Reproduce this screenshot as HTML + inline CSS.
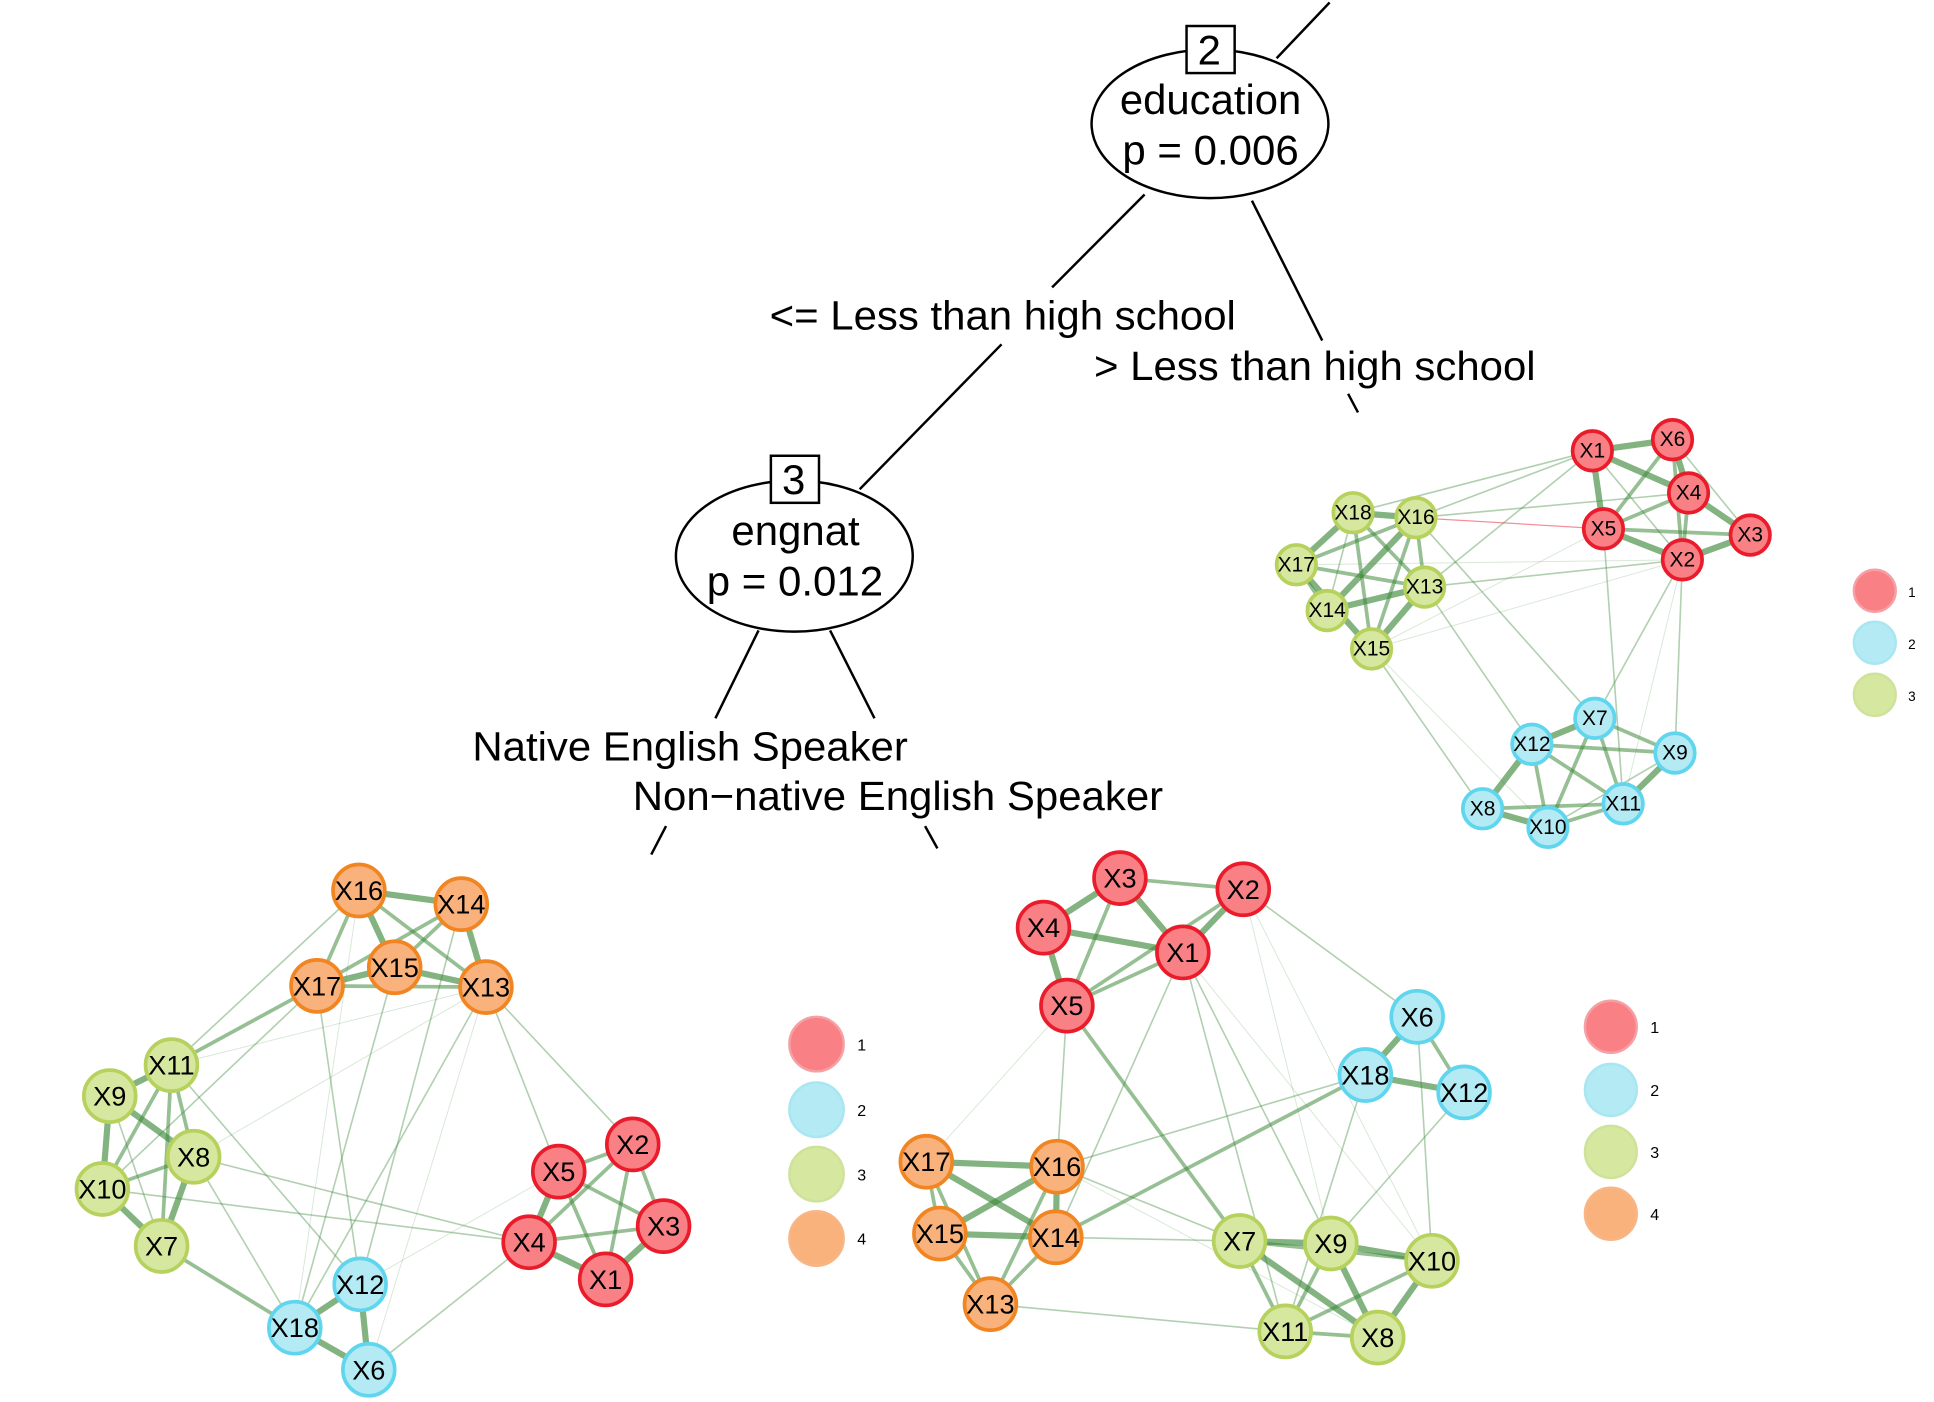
<!DOCTYPE html>
<html><head><meta charset="utf-8"><style>
html,body{margin:0;padding:0;background:#fff;}
svg{display:block}
text{font-family:"Liberation Sans",sans-serif;fill:#000}
.tr line{stroke:#000;stroke-width:2}
.t{stroke:#3f8a3c;stroke-width:5;stroke-opacity:.65}
.m{stroke:#3f8a3c;stroke-width:3;stroke-opacity:.55}
.s{stroke:#3f8a3c;stroke-width:1.3;stroke-opacity:.4}
.f{stroke:#3f8a3c;stroke-width:.8;stroke-opacity:.2}
.R{fill:#f98085;stroke:#ea1c2c;stroke-width:3}
.B{fill:#b3eaf4;stroke:#5fd5ee;stroke-width:3}
.G{fill:#d6e7a0;stroke:#b6d15c;stroke-width:3}
.O{fill:#fab27c;stroke:#f08522;stroke-width:3}
.LR{fill:#f98085;stroke:#f5a0a4;stroke-width:2}
.LB{fill:#b3eaf4;stroke:#a8e6f2;stroke-width:2}
.LG{fill:#d6e7a0;stroke:#cfe29a;stroke-width:2}
.LO{fill:#fab27c;stroke:#f8b585;stroke-width:2}
.n1 text{font-size:17px;text-anchor:middle;dominant-baseline:central}
.n2 text{font-size:22px;text-anchor:middle;dominant-baseline:central}
.lg{font-size:13px}
</style></head><body>
<svg width="1934" height="1402" viewBox="0 0 1568 1132" preserveAspectRatio="none">
<g class="tr" fill="none">
<line x1="1078" y1="2" x2="1035" y2="47"/>
<line x1="928" y1="157" x2="853" y2="232"/>
<line x1="812" y1="278" x2="697" y2="395"/>
<line x1="1015" y1="162" x2="1072" y2="275"/>
<line x1="1093" y1="318" x2="1101" y2="333"/>
<line x1="615" y1="509" x2="580" y2="580"/>
<line x1="673" y1="509" x2="709" y2="580"/>
<line x1="540" y1="667" x2="528" y2="690"/>
<line x1="750" y1="667" x2="760" y2="685"/>
<ellipse cx="981" cy="100" rx="96" ry="60" stroke="#000" stroke-width="2" fill="#fff"/>
<rect x="962" y="21" width="39" height="38" stroke="#000" stroke-width="2" fill="#fff"/>
<ellipse cx="644" cy="449" rx="96" ry="61" stroke="#000" stroke-width="2" fill="#fff"/>
<rect x="625" y="368" width="39" height="38" stroke="#000" stroke-width="2" fill="#fff"/>
</g>
<g style="font-size:34px" lengthAdjust="spacingAndGlyphs">
<text x="971" y="52">2</text>
<text x="908" y="92" textLength="147" lengthAdjust="spacingAndGlyphs">education</text>
<text x="910" y="133" textLength="143" lengthAdjust="spacingAndGlyphs">p = 0.006</text>
<text x="634" y="399">3</text>
<text x="593" y="440" textLength="104" lengthAdjust="spacingAndGlyphs">engnat</text>
<text x="573" y="481" textLength="143" lengthAdjust="spacingAndGlyphs">p = 0.012</text>
</g>
<g style="font-size:33px">
<text x="624" y="266" textLength="378" lengthAdjust="spacingAndGlyphs">&lt;= Less than high school</text>
<text x="887" y="307" textLength="358" lengthAdjust="spacingAndGlyphs">&gt; Less than high school</text>
<text x="383" y="614" textLength="353" lengthAdjust="spacingAndGlyphs">Native English Speaker</text>
<text x="513" y="654" textLength="430" lengthAdjust="spacingAndGlyphs">Non−native English Speaker</text>
</g>

<!-- Network 1 -->
<g>
<line class="t" x1="1291" y1="364" x2="1356" y2="355"/><line class="t" x1="1291" y1="364" x2="1369" y2="398"/>
<line class="t" x1="1291" y1="364" x2="1300" y2="427"/><line class="s" x1="1291" y1="364" x2="1364" y2="452"/>
<line class="t" x1="1356" y1="355" x2="1369" y2="398"/><line class="m" x1="1356" y1="355" x2="1364" y2="452"/>
<line class="s" x1="1356" y1="355" x2="1419" y2="432"/><line class="m" x1="1356" y1="355" x2="1300" y2="427"/>
<line class="t" x1="1369" y1="398" x2="1419" y2="432"/><line class="m" x1="1369" y1="398" x2="1300" y2="427"/>
<line class="t" x1="1364" y1="452" x2="1419" y2="432"/><line class="t" x1="1300" y1="427" x2="1364" y2="452"/>
<line class="m" x1="1300" y1="427" x2="1419" y2="432"/><line class="m" x1="1369" y1="398" x2="1364" y2="452"/>
<line class="t" x1="1097" y1="414" x2="1148" y2="418"/><line class="t" x1="1097" y1="414" x2="1051" y2="456"/>
<line class="m" x1="1097" y1="414" x2="1155" y2="474"/><line class="m" x1="1097" y1="414" x2="1112" y2="524"/>
<line class="s" x1="1097" y1="414" x2="1076" y2="493"/><line class="m" x1="1148" y1="418" x2="1051" y2="456"/>
<line class="t" x1="1148" y1="418" x2="1076" y2="493"/><line class="m" x1="1148" y1="418" x2="1112" y2="524"/>
<line class="m" x1="1148" y1="418" x2="1155" y2="474"/><line class="t" x1="1051" y1="456" x2="1112" y2="524"/>
<line class="m" x1="1051" y1="456" x2="1155" y2="474"/><line class="t" x1="1076" y1="493" x2="1155" y2="474"/>
<line class="t" x1="1155" y1="474" x2="1112" y2="524"/><line class="m" x1="1051" y1="456" x2="1076" y2="493"/>
<line stroke="#f06070" stroke-width="1" stroke-opacity=".7" x1="1148" y1="418" x2="1300" y2="427"/>
<line class="s" x1="1148" y1="418" x2="1369" y2="398"/><line class="s" x1="1097" y1="414" x2="1291" y2="364"/>
<line class="s" x1="1148" y1="418" x2="1291" y2="364"/><line class="s" x1="1155" y1="474" x2="1291" y2="364"/>
<line class="s" x1="1155" y1="474" x2="1364" y2="452"/><line class="f" x1="1051" y1="456" x2="1364" y2="452"/>
<line class="f" x1="1112" y1="524" x2="1364" y2="452"/><line class="f" x1="1112" y1="524" x2="1300" y2="427"/>
<line class="s" x1="1112" y1="524" x2="1202" y2="653"/><line class="f" x1="1112" y1="524" x2="1255" y2="668"/>
<line class="s" x1="1148" y1="418" x2="1293" y2="580"/><line class="s" x1="1155" y1="474" x2="1242" y2="601"/>
<line class="s" x1="1300" y1="427" x2="1316" y2="649"/><line class="s" x1="1364" y1="452" x2="1293" y2="580"/>
<line class="s" x1="1364" y1="452" x2="1358" y2="608"/><line class="f" x1="1364" y1="452" x2="1316" y2="649"/>
<line class="t" x1="1242" y1="601" x2="1293" y2="580"/><line class="m" x1="1242" y1="601" x2="1358" y2="608"/>
<line class="t" x1="1242" y1="601" x2="1202" y2="653"/><line class="m" x1="1242" y1="601" x2="1255" y2="668"/>
<line class="m" x1="1242" y1="601" x2="1316" y2="649"/><line class="m" x1="1293" y1="580" x2="1358" y2="608"/>
<line class="m" x1="1293" y1="580" x2="1255" y2="668"/><line class="m" x1="1293" y1="580" x2="1316" y2="649"/>
<line class="t" x1="1358" y1="608" x2="1316" y2="649"/><line class="t" x1="1202" y1="653" x2="1255" y2="668"/>
<line class="m" x1="1202" y1="653" x2="1316" y2="649"/><line class="m" x1="1255" y1="668" x2="1316" y2="649"/>
<line class="s" x1="1255" y1="668" x2="1358" y2="608"/>
</g>
<g class="n1">
<circle class="R" cx="1291" cy="364" r="16"/><text x="1291" y="364">X1</text>
<circle class="R" cx="1356" cy="355" r="16"/><text x="1356" y="355">X6</text>
<circle class="R" cx="1369" cy="398" r="16"/><text x="1369" y="398">X4</text>
<circle class="R" cx="1419" cy="432" r="16"/><text x="1419" y="432">X3</text>
<circle class="R" cx="1364" cy="452" r="16"/><text x="1364" y="452">X2</text>
<circle class="R" cx="1300" cy="427" r="16"/><text x="1300" y="427">X5</text>
<circle class="G" cx="1097" cy="414" r="16"/><text x="1097" y="414">X18</text>
<circle class="G" cx="1148" cy="418" r="16"/><text x="1148" y="418">X16</text>
<circle class="G" cx="1051" cy="456" r="16"/><text x="1051" y="456">X17</text>
<circle class="G" cx="1155" cy="474" r="16"/><text x="1155" y="474">X13</text>
<circle class="G" cx="1076" cy="493" r="16"/><text x="1076" y="493">X14</text>
<circle class="G" cx="1112" cy="524" r="16"/><text x="1112" y="524">X15</text>
<circle class="B" cx="1293" cy="580" r="16"/><text x="1293" y="580">X7</text>
<circle class="B" cx="1242" cy="601" r="16"/><text x="1242" y="601">X12</text>
<circle class="B" cx="1358" cy="608" r="16"/><text x="1358" y="608">X9</text>
<circle class="B" cx="1202" cy="653" r="16"/><text x="1202" y="653">X8</text>
<circle class="B" cx="1255" cy="668" r="16"/><text x="1255" y="668">X10</text>
<circle class="B" cx="1316" cy="649" r="16"/><text x="1316" y="649">X11</text>
</g>
<circle class="LR" cx="1520" cy="477" r="17"/><circle class="LB" cx="1520" cy="519" r="17"/><circle class="LG" cx="1520" cy="561" r="17"/>
<text class="lg" x="1547" y="482" style="font-size:11px">1</text><text class="lg" x="1547" y="524" style="font-size:11px">2</text><text class="lg" x="1547" y="566" style="font-size:11px">3</text>

<!-- Network 2 -->
<g>
<line class="t" x1="291" y1="719" x2="374" y2="730"/><line class="t" x1="291" y1="719" x2="320" y2="781"/>
<line class="m" x1="291" y1="719" x2="257" y2="796"/><line class="m" x1="291" y1="719" x2="394" y2="797"/>
<line class="m" x1="374" y1="730" x2="320" y2="781"/><line class="m" x1="374" y1="730" x2="257" y2="796"/>
<line class="t" x1="374" y1="730" x2="394" y2="797"/><line class="t" x1="257" y1="796" x2="320" y2="781"/>
<line class="m" x1="257" y1="796" x2="394" y2="797"/><line class="t" x1="320" y1="781" x2="394" y2="797"/>
<line class="t" x1="139" y1="860" x2="89" y2="885"/><line class="m" x1="139" y1="860" x2="157" y2="934"/>
<line class="m" x1="139" y1="860" x2="83" y2="960"/><line class="m" x1="139" y1="860" x2="131" y2="1006"/>
<line class="t" x1="89" y1="885" x2="157" y2="934"/><line class="t" x1="89" y1="885" x2="83" y2="960"/>
<line class="s" x1="89" y1="885" x2="131" y2="1006"/><line class="m" x1="83" y1="960" x2="157" y2="934"/>
<line class="t" x1="83" y1="960" x2="131" y2="1006"/><line class="t" x1="157" y1="934" x2="131" y2="1006"/>
<line class="t" x1="292" y1="1037" x2="239" y2="1072"/><line class="t" x1="292" y1="1037" x2="299" y2="1106"/>
<line class="t" x1="239" y1="1072" x2="299" y2="1106"/>
<line class="m" x1="513" y1="924" x2="453" y2="946"/><line class="m" x1="513" y1="924" x2="538" y2="990"/>
<line class="m" x1="513" y1="924" x2="429" y2="1003"/><line class="m" x1="513" y1="924" x2="491" y2="1033"/>
<line class="m" x1="453" y1="946" x2="538" y2="990"/><line class="t" x1="453" y1="946" x2="429" y2="1003"/>
<line class="m" x1="453" y1="946" x2="491" y2="1033"/><line class="m" x1="538" y1="990" x2="429" y2="1003"/>
<line class="t" x1="538" y1="990" x2="491" y2="1033"/><line class="t" x1="429" y1="1003" x2="491" y2="1033"/>
<line class="s" x1="139" y1="860" x2="291" y2="719"/><line class="m" x1="139" y1="860" x2="257" y2="796"/>
<line class="f" x1="139" y1="860" x2="394" y2="797"/><line class="s" x1="83" y1="960" x2="257" y2="796"/>
<line class="s" x1="257" y1="796" x2="292" y2="1037"/><line class="s" x1="320" y1="781" x2="239" y2="1072"/>
<line class="s" x1="394" y1="797" x2="239" y2="1072"/><line class="f" x1="394" y1="797" x2="299" y2="1106"/>
<line class="s" x1="374" y1="730" x2="292" y2="1037"/><line class="f" x1="291" y1="719" x2="239" y2="1072"/>
<line class="s" x1="394" y1="797" x2="453" y2="946"/><line class="s" x1="394" y1="797" x2="513" y2="924"/>
<line class="s" x1="157" y1="934" x2="429" y2="1003"/><line class="s" x1="83" y1="960" x2="429" y2="1003"/>
<line class="s" x1="157" y1="934" x2="239" y2="1072"/><line class="s" x1="139" y1="860" x2="292" y2="1037"/>
<line class="m" x1="131" y1="1006" x2="239" y2="1072"/><line class="s" x1="299" y1="1106" x2="429" y2="1003"/>
<line class="f" x1="292" y1="1037" x2="453" y2="946"/><line class="f" x1="157" y1="934" x2="394" y2="797"/>
</g>
<g class="n2">
<circle class="O" cx="291" cy="719" r="21"/><text x="291" y="719">X16</text>
<circle class="O" cx="374" cy="730" r="21"/><text x="374" y="730">X14</text>
<circle class="O" cx="320" cy="781" r="21"/><text x="320" y="781">X15</text>
<circle class="O" cx="257" cy="796" r="21"/><text x="257" y="796">X17</text>
<circle class="O" cx="394" cy="797" r="21"/><text x="394" y="797">X13</text>
<circle class="G" cx="139" cy="860" r="21"/><text x="139" y="860">X11</text>
<circle class="G" cx="89" cy="885" r="21"/><text x="89" y="885">X9</text>
<circle class="G" cx="157" cy="934" r="21"/><text x="157" y="934">X8</text>
<circle class="G" cx="83" cy="960" r="21"/><text x="83" y="960">X10</text>
<circle class="G" cx="131" cy="1006" r="21"/><text x="131" y="1006">X7</text>
<circle class="B" cx="292" cy="1037" r="21"/><text x="292" y="1037">X12</text>
<circle class="B" cx="239" cy="1072" r="21"/><text x="239" y="1072">X18</text>
<circle class="B" cx="299" cy="1106" r="21"/><text x="299" y="1106">X6</text>
<circle class="R" cx="513" cy="924" r="21"/><text x="513" y="924">X2</text>
<circle class="R" cx="453" cy="946" r="21"/><text x="453" y="946">X5</text>
<circle class="R" cx="538" cy="990" r="21"/><text x="538" y="990">X3</text>
<circle class="R" cx="429" cy="1003" r="21"/><text x="429" y="1003">X4</text>
<circle class="R" cx="491" cy="1033" r="21"/><text x="491" y="1033">X1</text>
</g>
<circle class="LR" cx="662" cy="843" r="22"/><circle class="LB" cx="662" cy="896" r="22"/><circle class="LG" cx="662" cy="948" r="22"/><circle class="LO" cx="662" cy="1000" r="22"/>
<text class="lg" x="695" y="848">1</text><text class="lg" x="695" y="901">2</text><text class="lg" x="695" y="953">3</text><text class="lg" x="695" y="1005">4</text>

<!-- Network 3 -->
<g>
<line class="m" x1="908" y1="709" x2="1008" y2="718"/><line class="t" x1="908" y1="709" x2="846" y2="749"/>
<line class="t" x1="908" y1="709" x2="959" y2="769"/><line class="m" x1="908" y1="709" x2="865" y2="812"/>
<line class="t" x1="1008" y1="718" x2="959" y2="769"/><line class="m" x1="1008" y1="718" x2="865" y2="812"/>
<line class="t" x1="846" y1="749" x2="959" y2="769"/><line class="t" x1="846" y1="749" x2="865" y2="812"/>
<line class="m" x1="959" y1="769" x2="865" y2="812"/>
<line class="t" x1="1149" y1="821" x2="1107" y2="868"/><line class="m" x1="1149" y1="821" x2="1187" y2="882"/>
<line class="t" x1="1107" y1="868" x2="1187" y2="882"/>
<line class="t" x1="751" y1="938" x2="857" y2="942"/><line class="m" x1="751" y1="938" x2="762" y2="996"/>
<line class="t" x1="751" y1="938" x2="856" y2="999"/><line class="m" x1="751" y1="938" x2="803" y2="1053"/>
<line class="t" x1="857" y1="942" x2="762" y2="996"/><line class="t" x1="857" y1="942" x2="856" y2="999"/>
<line class="m" x1="857" y1="942" x2="803" y2="1053"/><line class="t" x1="762" y1="996" x2="856" y2="999"/>
<line class="m" x1="762" y1="996" x2="803" y2="1053"/><line class="m" x1="856" y1="999" x2="803" y2="1053"/>
<line class="t" x1="1005" y1="1002" x2="1079" y2="1004"/><line class="m" x1="1005" y1="1002" x2="1161" y2="1018"/>
<line class="m" x1="1005" y1="1002" x2="1042" y2="1075"/><line class="t" x1="1005" y1="1002" x2="1117" y2="1080"/>
<line class="t" x1="1079" y1="1004" x2="1161" y2="1018"/><line class="m" x1="1079" y1="1004" x2="1042" y2="1075"/>
<line class="t" x1="1079" y1="1004" x2="1117" y2="1080"/><line class="m" x1="1161" y1="1018" x2="1042" y2="1075"/>
<line class="t" x1="1161" y1="1018" x2="1117" y2="1080"/><line class="m" x1="1042" y1="1075" x2="1117" y2="1080"/>
<line class="m" x1="865" y1="812" x2="1005" y2="1002"/><line class="s" x1="857" y1="942" x2="1107" y2="868"/>
<line class="m" x1="856" y1="999" x2="1107" y2="868"/><line class="s" x1="857" y1="942" x2="1005" y2="1002"/>
<line class="s" x1="856" y1="999" x2="1005" y2="1002"/><line class="s" x1="865" y1="812" x2="857" y2="942"/>
<line class="s" x1="959" y1="769" x2="856" y2="999"/><line class="s" x1="959" y1="769" x2="1079" y2="1004"/>
<line class="s" x1="1008" y1="718" x2="1149" y2="821"/><line class="f" x1="1008" y1="718" x2="1161" y2="1018"/>
<line class="s" x1="1187" y1="882" x2="1079" y2="1004"/><line class="s" x1="1149" y1="821" x2="1161" y2="1018"/>
<line class="s" x1="1107" y1="868" x2="1042" y2="1075"/><line class="s" x1="803" y1="1053" x2="1042" y2="1075"/>
<line class="f" x1="751" y1="938" x2="865" y2="812"/><line class="f" x1="857" y1="942" x2="1117" y2="1080"/>
<line class="f" x1="959" y1="769" x2="1161" y2="1018"/><line class="f" x1="1008" y1="718" x2="1079" y2="1004"/>
<line class="s" x1="959" y1="769" x2="1042" y2="1075"/>
</g>
<g class="n2">
<circle class="R" cx="908" cy="709" r="21"/><text x="908" y="709">X3</text>
<circle class="R" cx="1008" cy="718" r="21"/><text x="1008" y="718">X2</text>
<circle class="R" cx="846" cy="749" r="21"/><text x="846" y="749">X4</text>
<circle class="R" cx="959" cy="769" r="21"/><text x="959" y="769">X1</text>
<circle class="R" cx="865" cy="812" r="21"/><text x="865" y="812">X5</text>
<circle class="B" cx="1149" cy="821" r="21"/><text x="1149" y="821">X6</text>
<circle class="B" cx="1107" cy="868" r="21"/><text x="1107" y="868">X18</text>
<circle class="B" cx="1187" cy="882" r="21"/><text x="1187" y="882">X12</text>
<circle class="O" cx="751" cy="938" r="21"/><text x="751" y="938">X17</text>
<circle class="O" cx="857" cy="942" r="21"/><text x="857" y="942">X16</text>
<circle class="O" cx="762" cy="996" r="21"/><text x="762" y="996">X15</text>
<circle class="O" cx="856" cy="999" r="21"/><text x="856" y="999">X14</text>
<circle class="O" cx="803" cy="1053" r="21"/><text x="803" y="1053">X13</text>
<circle class="G" cx="1005" cy="1002" r="21"/><text x="1005" y="1002">X7</text>
<circle class="G" cx="1079" cy="1004" r="21"/><text x="1079" y="1004">X9</text>
<circle class="G" cx="1161" cy="1018" r="21"/><text x="1161" y="1018">X10</text>
<circle class="G" cx="1042" cy="1075" r="21"/><text x="1042" y="1075">X11</text>
<circle class="G" cx="1117" cy="1080" r="21"/><text x="1117" y="1080">X8</text>
</g>
<circle class="LR" cx="1306" cy="829" r="21"/><circle class="LB" cx="1306" cy="880" r="21"/><circle class="LG" cx="1306" cy="930" r="21"/><circle class="LO" cx="1306" cy="980" r="21"/>
<text class="lg" x="1338" y="834">1</text><text class="lg" x="1338" y="885">2</text><text class="lg" x="1338" y="935">3</text><text class="lg" x="1338" y="985">4</text>
</svg>
</body></html>
